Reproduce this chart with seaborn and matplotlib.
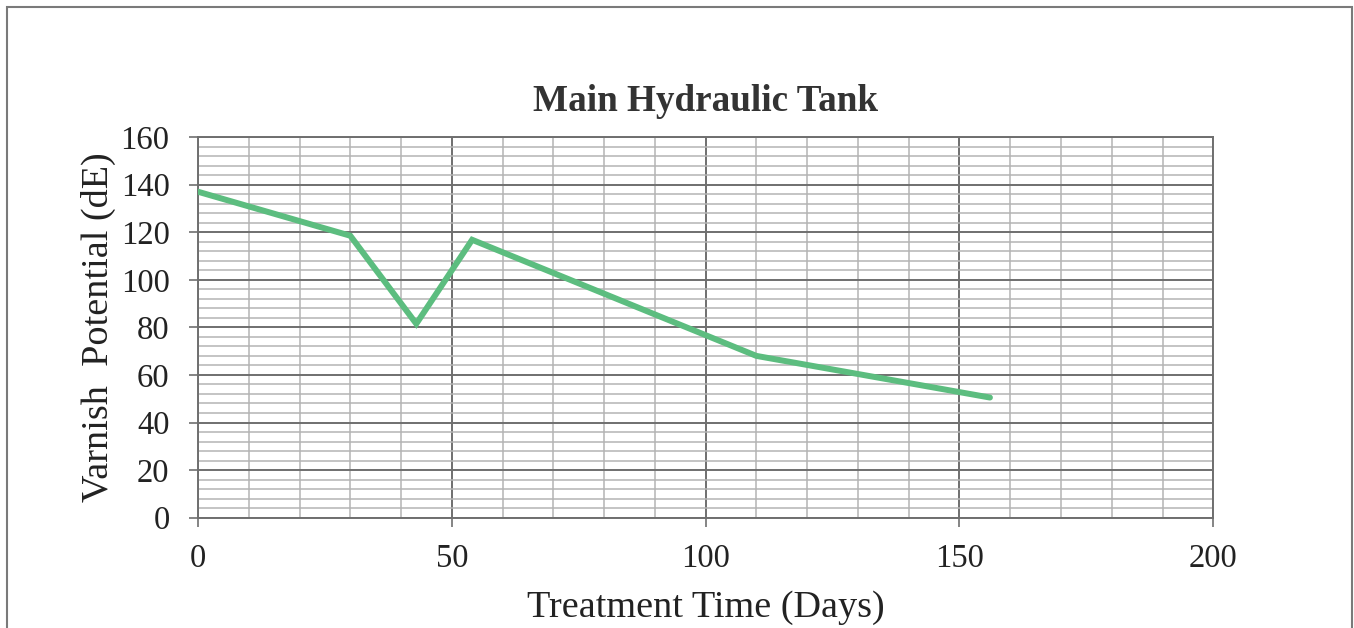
import matplotlib
matplotlib.use("Agg")
import matplotlib.pyplot as plt
import matplotlib.patches as mpatches
from matplotlib.ticker import MultipleLocator
import pandas as pd
import seaborn as sns

# values
days = [0, 30, 43, 54, 110, 156]
varnish_de = [137, 118.5, 81.5, 116.8, 68, 50.5]

df = pd.DataFrame({"days": days, "de": varnish_de})

sns.set_theme(style="white")
plt.rcParams['font.family'] = ['Liberation Serif', 'DejaVu Serif']

major_c = '#6f6f6f'
minor_c = '#b4b4b4'

fig = plt.figure(figsize=(13.54, 6.28), dpi=100)
ax = fig.add_axes([198 / 1354, 1 - 517.7 / 628, 1015.3 / 1354, 380.7 / 628])

sns.lineplot(data=df, x="days", y="de", ax=ax, color='#5cbd7f',
             linewidth=4.3, solid_joinstyle='miter', zorder=5)

ax.set_xlim(0, 200)
ax.set_ylim(0, 160)
ax.xaxis.set_major_locator(MultipleLocator(50))
ax.xaxis.set_minor_locator(MultipleLocator(10))
ax.yaxis.set_major_locator(MultipleLocator(20))
ax.yaxis.set_minor_locator(MultipleLocator(4))

ax.grid(which='minor', color=minor_c, linewidth=1.1)
ax.grid(which='major', color=major_c, linewidth=1.4)
ax.set_axisbelow(True)

for s in ax.spines.values():
    s.set_color(major_c)
    s.set_linewidth(1.4)

ax.tick_params(which='major', direction='out', length=6.5, width=1.2,
               color=major_c, labelsize=23.5, labelcolor='#222222',
               left=True, bottom=True)
ax.tick_params(axis='y', pad=14)
ax.tick_params(axis='x', pad=12)
ax.tick_params(which='minor', length=0)

ax.set_title("Main Hydraulic Tank", fontsize=26.7, fontweight='bold',
             color='#333333', pad=19)
ax.set_xlabel("Treatment Time (Days)", fontsize=27.5, color='#222222')
ax.set_ylabel("Varnish  Potential (dE)", fontsize=27.5, color='#222222')
ax.xaxis.set_label_coords(0.5, -0.261)
ax.xaxis.label.set_va('baseline')
ax.yaxis.set_label_coords(-0.0985, 0.5)
ax.yaxis.label.set_va('center')

# scanned page frame
fig.patches.append(mpatches.Rectangle((7 / 1354, -0.05), 1345 / 1354, 1.05 - 7 / 628,
                                      transform=fig.transFigure, fill=False,
                                      edgecolor='#7a7a7a', linewidth=1.5))

fig.savefig("out.png", dpi=100)
